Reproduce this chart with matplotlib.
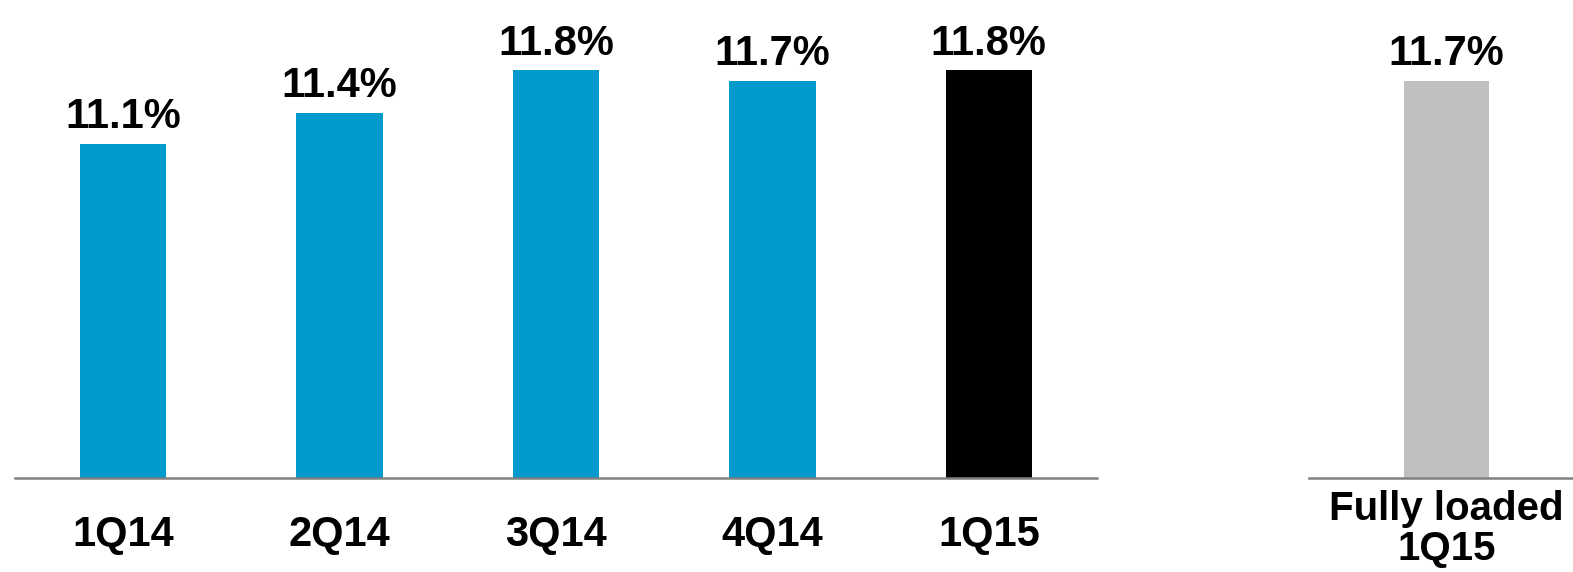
import matplotlib.pyplot as plt

# capital ratio per quarter
quarters = ['1Q14', '2Q14', '3Q14', '4Q14', '1Q15']
ratios = [11.1, 11.4, 11.8, 11.7, 11.8]
bar_colors = ['#009BCC', '#009BCC', '#009BCC', '#009BCC', '#000000']

# fully loaded figure
fl_label = ['Fully loaded\n1Q15']
fl_ratio = [11.7]

plt.rcParams['font.family'] = ['Liberation Sans', 'DejaVu Sans']
plt.rcParams['font.weight'] = 'bold'

W, H = 1573, 572
fig = plt.figure(figsize=(W / 100, H / 100), dpi=100)

base_y = 477.7
ymin, ymax = 7.93, 12.47

ax1 = fig.add_axes([15 / W, 1 - base_y / H, (1097 - 15) / W, base_y / H])
ax2 = fig.add_axes([1309 / W, 1 - base_y / H, (1573 - 1309) / W, base_y / H])

bars = ax1.bar(range(len(quarters)), ratios, width=0.4, color=bar_colors)
ax1.bar_label(bars, labels=[f'{v:.1f}%' for v in ratios], padding=5,
              fontsize=30, fontweight='bold')
ax1.set_xlim(-0.5, 4.5)
ax1.set_xticks(range(len(quarters)))
ax1.set_xticklabels(quarters, fontsize=30, fontweight='bold')
ax1.tick_params(axis='x', length=0, pad=27)

bars2 = ax2.bar([0], fl_ratio, width=0.39, color='#BFBFBF')
ax2.bar_label(bars2, labels=[f'{v:.1f}%' for v in fl_ratio], padding=5,
              fontsize=30, fontweight='bold')
ax2.set_xlim(-0.635, 0.585)
ax2.set_xticks([0])
ax2.set_xticklabels(fl_label, fontsize=29, fontweight='bold', linespacing=1.05)
ax2.tick_params(axis='x', length=0, pad=9)

for ax in (ax1, ax2):
    ax.set_ylim(ymin, ymax)
    ax.set_yticks([])
    for s in ('top', 'right', 'left'):
        ax.spines[s].set_visible(False)
    ax.spines['bottom'].set_color('#808080')
    ax.spines['bottom'].set_linewidth(1.8)
    ax.set_facecolor('none')

fig.savefig('out.png', dpi=100)
